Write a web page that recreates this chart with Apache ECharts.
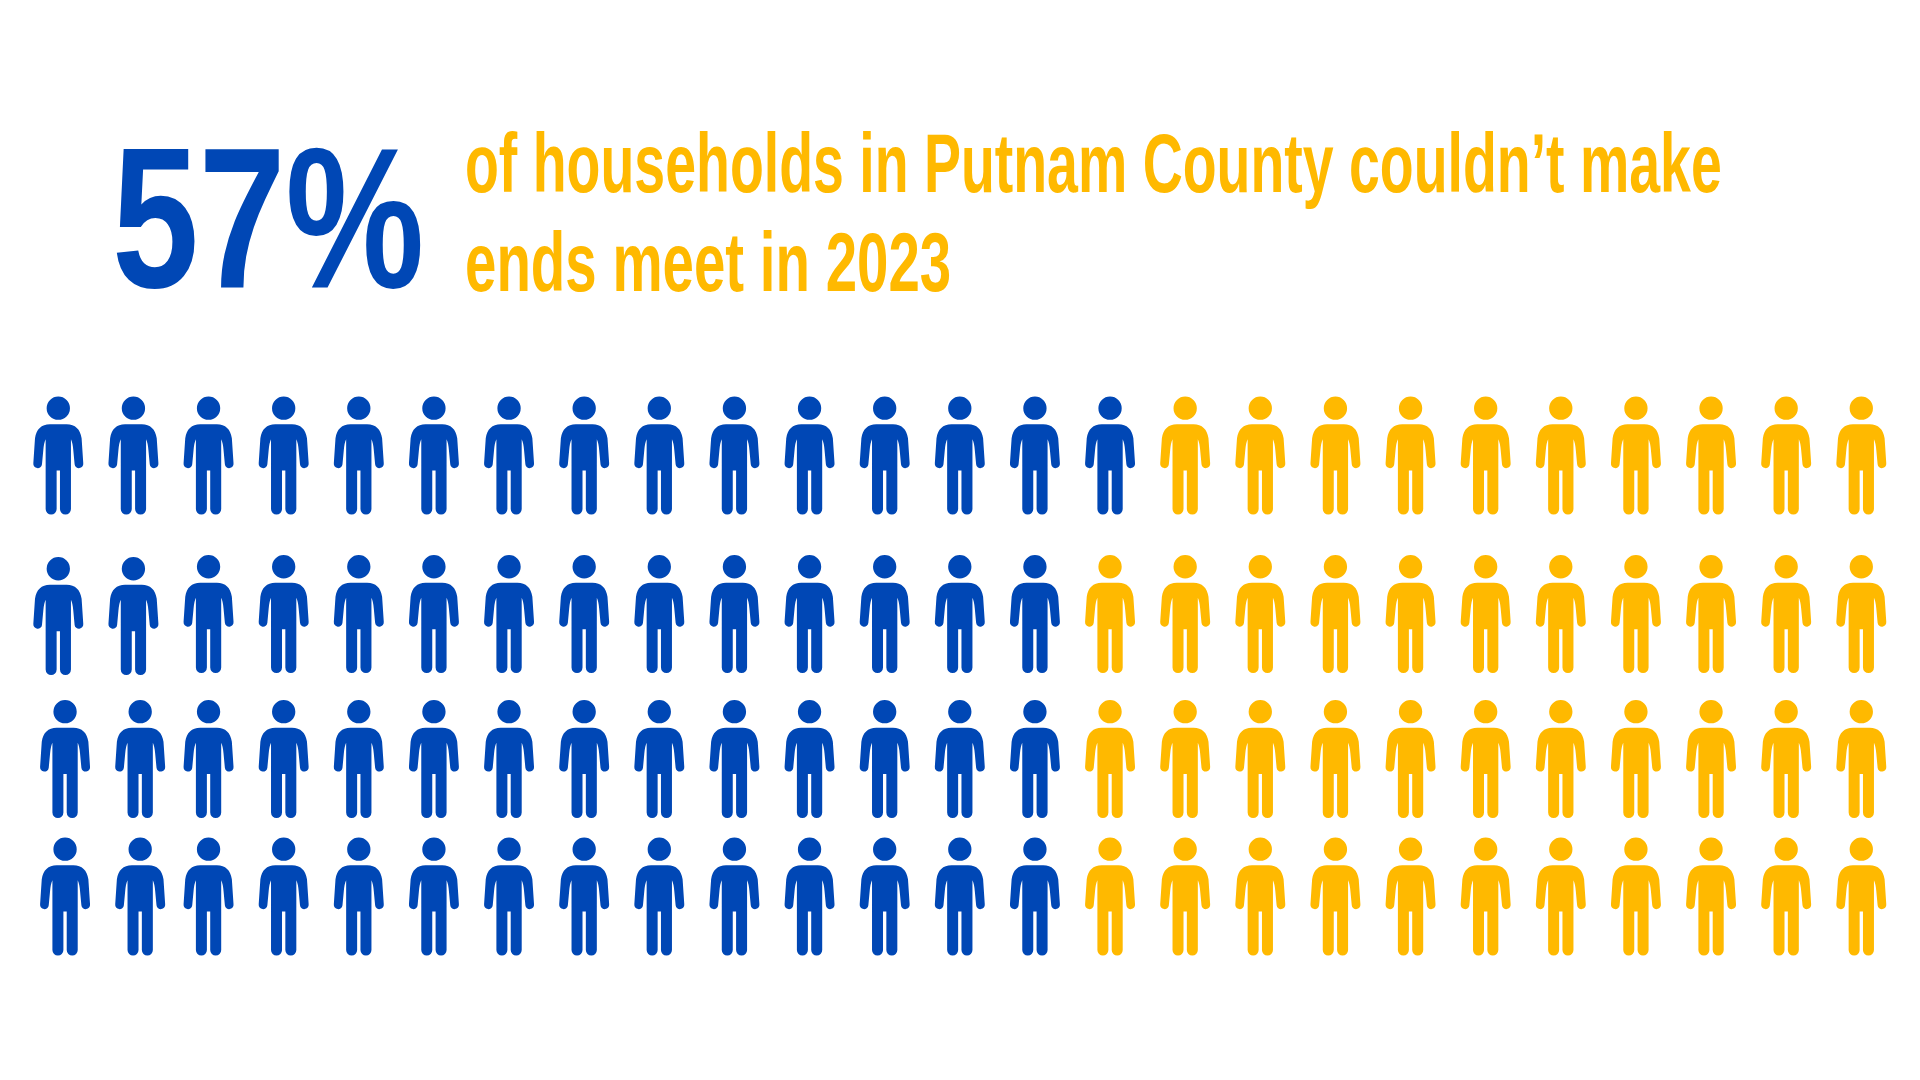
<!DOCTYPE html>
<html>
<head>
<meta charset="utf-8">
<title>Putnam County households</title>
<script src="https://cdn.jsdelivr.net/npm/echarts@6/dist/echarts.min.js"></script>
<style>
    html, body { margin: 0; padding: 0; background: #fff; }
    #chart { width: 1920px; height: 1080px; }
</style>
</head>
<body>
<div id="chart"></div>
<script>
// 100 households, one icon each
const headline = '57%';
const titleLines = ['of households in Putnam County couldn’t make', 'ends meet in 2023'];
const columnCount = 25;
const rowLevels = [0, 1.153, 2.207, 3.207];
const blueCounts = [15, 14, 14, 14];
// the first two icons of some rows sit a little off the grid in the original
const firstTwoShiftX = [0, 0, 0.09, 0.09];
const firstTwoShiftY = [0, 0.015, 0, 0];

const BLUE = '#0047b5';
const YELLOW = '#ffb900';

const personPath = 'path://M40 35A35 35 0 1 1 110 35A35 35 0 1 1 40 35Z' +
    'M50 83L100 83C126 83 141 98 145 125L150 200A13 13 0 0 1 124 203L120 160Q118 138 113 128' +
    'L113 337A16.5 16.5 0 0 1 80 337L80 222L70 222L70 337A16.5 16.5 0 0 1 37 337L37 128' +
    'Q32 138 30 160L26 203A13 13 0 0 1 0 200L5 125C9 98 24 83 50 83Z';

const blueData = [];
const yellowData = [];
rowLevels.forEach((level, row) => {
    for (let col = 0; col < columnCount; col++) {
        const point = col < 2
            ? [col + firstTwoShiftX[row], level + firstTwoShiftY[row]]
            : [col, level];
        (col < blueCounts[row] ? blueData : yellowData).push(point);
    }
});

function makeSeries(name, data, color) {
    return {
        name,
        type: 'scatter',
        data,
        symbol: personPath,
        symbolSize: [50, 118],
        itemStyle: { color, opacity: 1 },
        silent: true
    };
}

function titleText(text, x, y, size, scaleX, color) {
    return {
        type: 'text',
        x,
        y,
        scaleX,
        silent: true,
        style: {
            text,
            fill: color,
            font: 'bold ' + size + 'px "Liberation Sans Narrow", "Liberation Sans", sans-serif',
            textAlign: 'left',
            textVerticalAlign: 'bottom'
        }
    };
}

const chart = echarts.init(document.getElementById('chart'));
chart.setOption({
    animation: false,
    backgroundColor: '#fff',
    grid: { left: 58.3, top: 455.5, width: 1803, height: 441, containLabel: false },
    xAxis: { type: 'value', min: 0, max: 24, show: false },
    yAxis: { type: 'value', min: 0, max: 3.207, inverse: true, show: false },
    graphic: [
        titleText(headline, 112, 332, 200, 0.78, BLUE),
        titleText(titleLines[0], 465, 211, 83, 0.668, YELLOW),
        titleText(titleLines[1], 465, 310, 83, 0.68, YELLOW)
    ],
    series: [
        makeSeries('Could not make ends meet', blueData, BLUE),
        makeSeries('Made ends meet', yellowData, YELLOW)
    ]
});
</script>
</body>
</html>
